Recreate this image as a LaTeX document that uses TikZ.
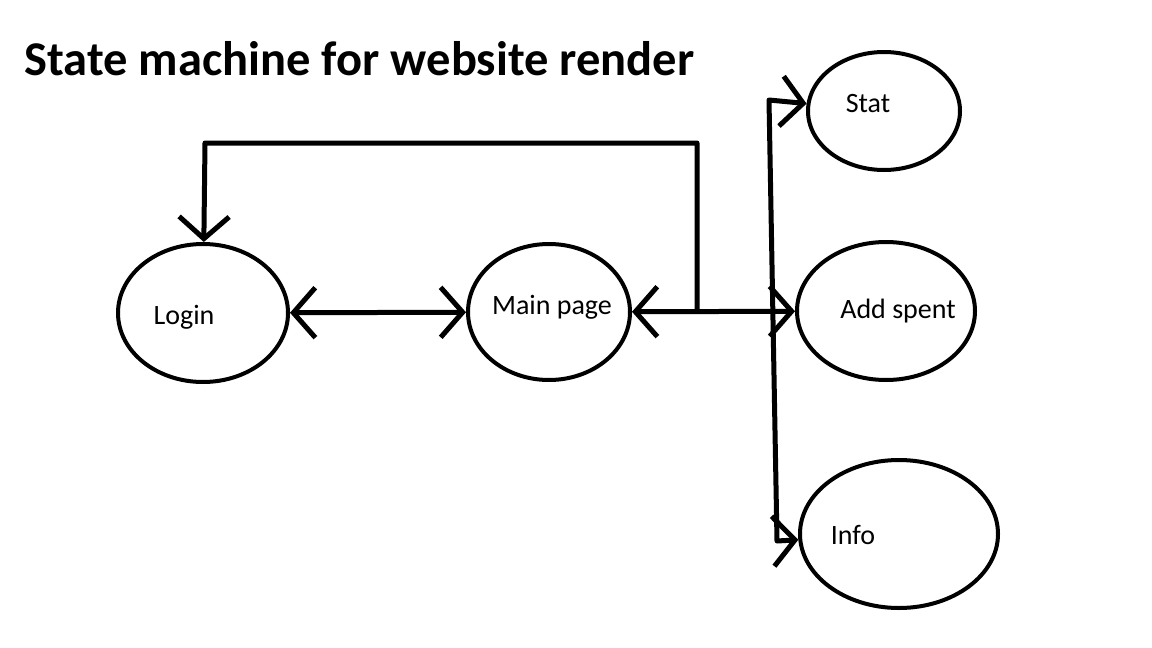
\documentclass[tikz,border=0pt]{standalone}
\usepackage{fontspec}
\setmainfont{Carlito}
\usepackage{tikz}
\usetikzlibrary{arrows.meta,shapes.geometric}
\tikzset{barb/.tip={Straight Barb[length=22pt,width=50pt]}}

\begin{document}
\begin{tikzpicture}[x=1pt, y=-1pt, line join=round,
    state/.style={draw, ellipse, line width=4pt, inner sep=0pt},
    link/.style={line width=5pt},
    every label/.style={font=\fontsize{28}{30}\selectfont}]
    \useasboundingbox (0,0) rectangle (1152,648);
    \node[anchor=base west, font=\bfseries\fontsize{48.5}{52}\selectfont] (title) at (21,75) {State machine for website render};
    \node[state, minimum width=170pt, minimum height=138pt, label={[xshift=-19pt,yshift=-4pt]center:Login}] (login) at (203,313) {};
    \node[state, minimum width=162pt, minimum height=136pt, label={[xshift=3pt,yshift=5pt]center:Main page}] (main) at (549,312) {};
    \node[state, minimum width=152pt, minimum height=118pt, label={[xshift=-16pt,yshift=7pt]center:Stat}] (stat) at (884,111) {};
    \node[state, minimum width=178pt, minimum height=138pt, label={[xshift=12pt,yshift=0pt]center:Add spent}] (add) at (886,311) {};
    \node[state, minimum width=198pt, minimum height=148pt, label={[xshift=-46pt,yshift=-1pt]center:Info}] (info) at (899,534) {};
    \coordinate (j) at (697,311);
    \coordinate (tl) at (205,143);
    \coordinate (bt) at (769,100);
    \coordinate (bb) at (777,541);
    \draw[link, barb-barb] (login) -- (main);
    \draw[link, barb-barb] (main) -- (add);
    \draw[link, -barb] (j) |- (tl) -- (login);
    \draw[link, barb-barb] (stat) -- (bt) -- (bb) -- (info);
\end{tikzpicture}
\end{document}
